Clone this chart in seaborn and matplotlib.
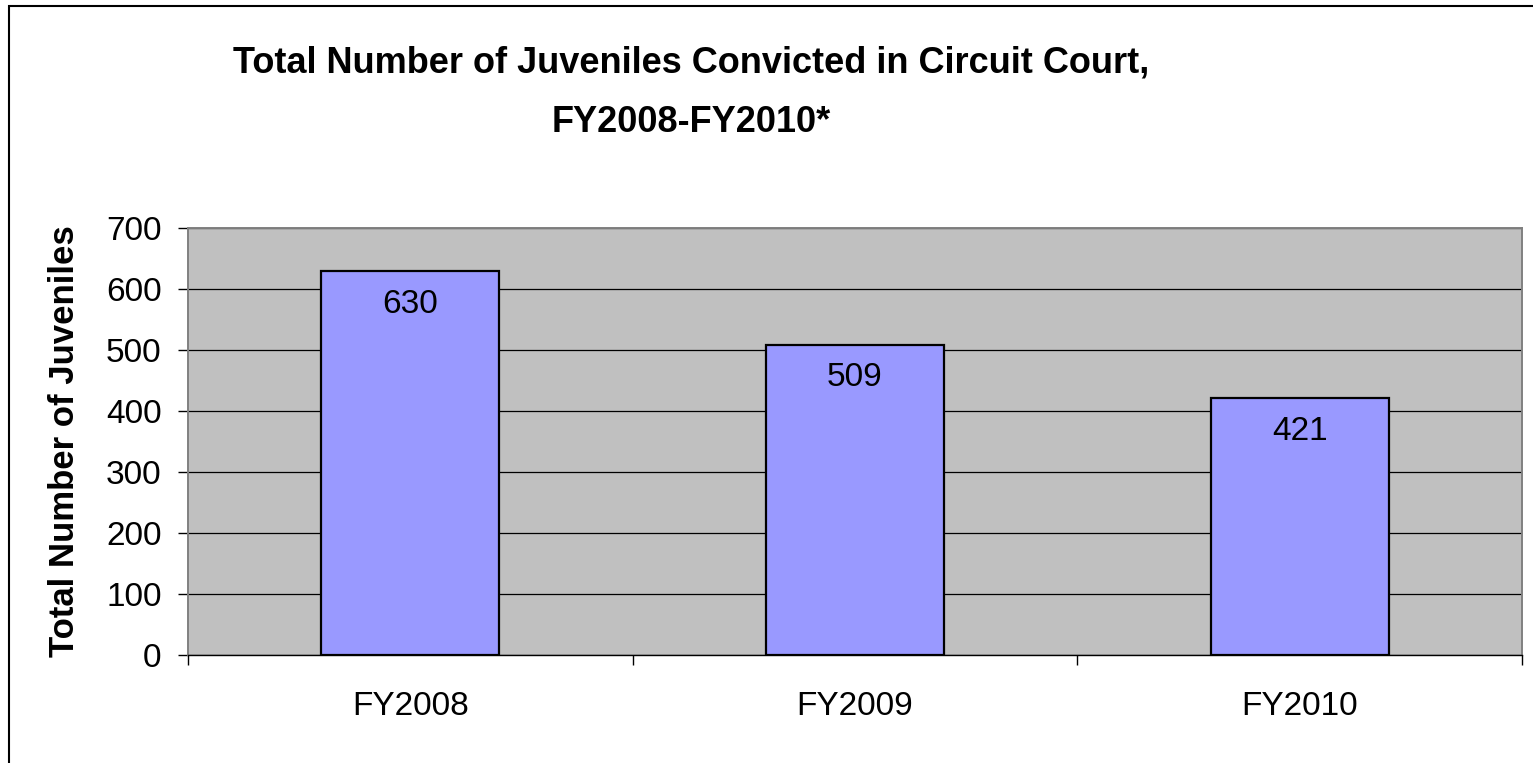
import matplotlib
matplotlib.use("Agg")
import matplotlib.pyplot as plt
import seaborn as sns
import pandas as pd
from matplotlib.patches import Rectangle

years = ["FY2008", "FY2009", "FY2010"]
counts = [630, 509, 421]
title_lines = ["Total Number of Juveniles Convicted in Circuit Court,", "FY2008-FY2010*"]

df = pd.DataFrame({"year": years, "count": counts})

sns.set_style("white")
plt.rcParams["font.family"] = ["Liberation Sans", "DejaVu Sans"]
plt.rcParams["text.color"] = "black"
plt.rcParams["axes.labelcolor"] = "black"
plt.rcParams["xtick.color"] = "black"
plt.rcParams["ytick.color"] = "black"

W, H = 1533, 763
fig = plt.figure(figsize=(W / 100, H / 100), dpi=100)
ax = fig.add_axes([188 / W, 1 - 655 / H, (1522 - 188) / W, (655 - 228) / H])
ax.set_facecolor("#C0C0C0")

sns.barplot(data=df, x="year", y="count", color="#9999FF", edgecolor="black",
            linewidth=1.6, width=0.4, saturation=1, ax=ax, zorder=3)

ax.set_ylim(0, 700)
ax.set_xlim(-0.5, 2.5)
ax.set_yticks(range(0, 701, 100))
ax.yaxis.grid(True, color="black", linewidth=0.9, zorder=1)
ax.set_axisbelow(True)

# value labels inside the bars
for i, v in enumerate(counts):
    ax.annotate(str(v), (i, v), xytext=(0, -24), textcoords="offset points",
                ha="center", va="center", fontsize=24, zorder=4)

for side in ["left", "top", "right"]:
    ax.spines[side].set_color("#808080")
    ax.spines[side].set_linewidth(1.4)
ax.spines["bottom"].set_color("black")
ax.spines["bottom"].set_linewidth(1.0)

ax.tick_params(axis="y", which="major", direction="out", length=7, width=1,
               labelsize=24, pad=12, left=True)
ax.set_xticks([-0.5, 0.5, 1.5, 2.5], minor=True)
ax.tick_params(axis="x", which="minor", direction="out", length=7, width=1,
               bottom=True)
ax.tick_params(axis="x", which="major", length=0, labelsize=24, pad=26)

ax.set_xlabel("")
ax.set_ylabel("Total Number of Juveniles", fontsize=25, fontweight="bold",
              labelpad=18)

fig.text(691 / W, 1 - 73 / H, title_lines[0], ha="center", va="baseline",
         fontsize=26, fontweight="bold")
fig.text(691 / W, 1 - 132 / H, title_lines[1], ha="center", va="baseline",
         fontsize=26, fontweight="bold")

fig.patches.append(Rectangle((9 / W, -0.05), 1.2, 1.05 - 6 / H,
                             transform=fig.transFigure, fill=False,
                             edgecolor="black", linewidth=1.5))

fig.savefig("out.png", dpi=100)
